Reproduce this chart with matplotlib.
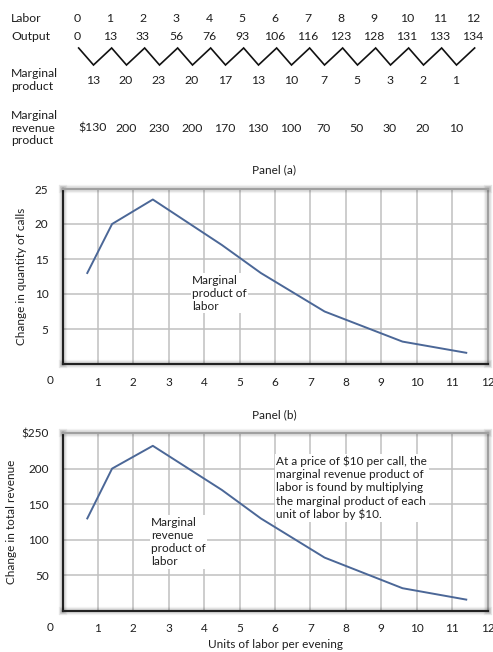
import matplotlib
matplotlib.use("Agg")
import matplotlib.pyplot as plt
import matplotlib.patheffects as pe

plt.rcParams["font.family"] = ["Lato", "DejaVu Sans"]
plt.rcParams["font.size"] = 8

# table data
labor = [0, 1, 2, 3, 4, 5, 6, 7, 8, 9, 10, 11, 12]
output = [0, 13, 33, 56, 76, 93, 106, 116, 123, 128, 131, 133, 134]
marginal_product = [13, 20, 23, 20, 17, 13, 10, 7, 5, 3, 2, 1]
mrp_labels = ["$130", "200", "230", "200", "170", "130", "100", "70", "50", "30", "20", "10"]

# plotted curves (smoothed points)
curve_x = [0.7, 1.4, 2.55, 4.5, 5.6, 7.4, 9.6, 11.4]
mp_curve = [13, 20, 23.5, 17, 13, 7.5, 3.2, 1.6]
mrp_curve = [130, 200, 232, 170, 130, 75, 32, 16]

line_color = "#4b6797"
grid_color = "#c0c0c0"
text_color = "#1e1e1e"
table_fs = 8.8

W, H = 493, 652
fig = plt.figure(figsize=(W / 100, H / 100), dpi=100)

# ---- top table, drawn in column units ----
top = fig.add_axes([0, 1 - 160 / H, 1, 160 / H])
top.set_xlim(-77 / 33, (W - 77) / 33)
top.set_ylim(160, 0)
top.axis("off")

row_x = -2.0
top.text(row_x, 18, "Labor", va="center", fontsize=table_fs, color=text_color)
top.text(row_x, 37, "Output", va="center", fontsize=table_fs, color=text_color)
top.text(row_x, 80, "Marginal\nproduct", va="center", fontsize=table_fs,
         linespacing=1.2, color=text_color)
top.text(row_x, 128, "Marginal\nrevenue\nproduct", va="center", fontsize=table_fs,
         linespacing=1.2, color=text_color)

for i, (l, o) in enumerate(zip(labor, output)):
    top.text(i, 18, str(l), ha="center", va="center", fontsize=table_fs, color=text_color)
    top.text(i, 37, str(o), ha="center", va="center", fontsize=table_fs, color=text_color)

zx, zy = [], []
for i in range(len(labor)):
    zx.append(i + 0.05)
    zy.append(48)
    if i < len(marginal_product):
        zx.append(i + 0.5)
        zy.append(65)
top.plot(zx, zy, color="#111111", lw=1.2, solid_joinstyle="miter")

for i, (m, r) in enumerate(zip(marginal_product, mrp_labels)):
    top.text(i + 0.48, 80, str(m), ha="center", va="center", fontsize=table_fs, color=text_color)
    top.text(i + 0.48, 128, r, ha="center", va="center", fontsize=table_fs, color=text_color)

shadow = [pe.Stroke(linewidth=6, foreground="black", alpha=0.05),
          pe.Stroke(linewidth=4, foreground="black", alpha=0.08),
          pe.Normal()]


def style_panel(ax, ymax, ystep, ylabels):
    ax.set_xlim(0, 12)
    ax.set_ylim(0, ymax)
    ax.set_xticks(range(1, 13))
    ax.set_yticks(range(ystep, ymax + 1, ystep))
    ax.set_yticklabels(ylabels)
    ax.tick_params(length=0, labelsize=8.5, colors=text_color)
    ax.tick_params(axis="x", pad=9)
    ax.tick_params(axis="y", pad=10)
    for x in range(1, 12):
        ax.axvline(x, color=grid_color, lw=1.1, zorder=0)
    for y in range(ystep, ymax, ystep):
        ax.axhline(y, color=grid_color, lw=1.1, zorder=0)
    for s in ("left", "bottom"):
        ax.spines[s].set_color("#222222")
        ax.spines[s].set_linewidth(1.6)
        ax.spines[s].set_path_effects(shadow)
    for s in ("top", "right"):
        ax.spines[s].set_color("#a0a0a0")
        ax.spines[s].set_linewidth(1.6)
        ax.spines[s].set_path_effects(shadow)
    ax.annotate("0", xy=(0, 0), xytext=(-9, -12), textcoords="offset points",
                ha="center", va="center", fontsize=8.5, color=text_color)


# ---- panel (a) ----
ax_a = fig.add_axes([62.5 / W, (H - 364) / H, 425 / W, 175 / H])
style_panel(ax_a, 25, 5, ["5", "10", "15", "20", "25"])
ax_a.plot(curve_x, mp_curve, color=line_color, lw=1.4)
ax_a.set_ylabel("Change in quantity of calls", fontsize=8.5, color=text_color)
ax_a.yaxis.set_label_coords(-0.083, 0.5)
ax_a.text(3.66, 10.1, "Marginal\nproduct of\nlabor", va="center", fontsize=8.5,
          linespacing=1.25, color=text_color,
          bbox=dict(facecolor="white", edgecolor="none", pad=1))
fig.text(274 / W, 1 - 170 / H, "Panel (a)", ha="center", va="center",
         fontsize=8.5, color=text_color)

# ---- panel (b) ----
ax_b = fig.add_axes([62.5 / W, (H - 611) / H, 425 / W, 178 / H])
style_panel(ax_b, 250, 50, ["50", "100", "150", "200", "$250"])
ax_b.plot(curve_x, mrp_curve, color=line_color, lw=1.4)
ax_b.set_ylabel("Change in total revenue", fontsize=8.5, color=text_color)
ax_b.yaxis.set_label_coords(-0.107, 0.5)
ax_b.set_xlabel("Units of labor per evening", fontsize=8.5, color=text_color)
ax_b.xaxis.set_label_coords(0.502, -0.16)
ax_b.text(2.5, 97, "Marginal\nrevenue\nproduct of\nlabor", va="center", fontsize=8.5,
          linespacing=1.25, color=text_color,
          bbox=dict(facecolor="white", edgecolor="none", pad=1))
ax_b.text(6.04, 173, "At a price of $10 per call, the\nmarginal revenue product of\n"
          "labor is found by multiplying\nthe marginal product of each\nunit of labor by $10.",
          va="center", fontsize=8.5, linespacing=1.25, color=text_color,
          bbox=dict(facecolor="white", edgecolor="none", pad=1))
fig.text(274 / W, 1 - 415 / H, "Panel (b)", ha="center", va="center",
         fontsize=8.5, color=text_color)

fig.savefig("out.png", dpi=100)
